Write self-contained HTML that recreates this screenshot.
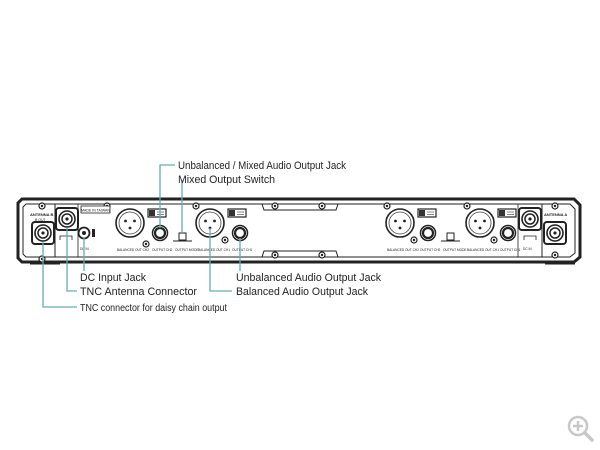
<!DOCTYPE html>
<html><head><meta charset="utf-8"><style>
html,body{margin:0;padding:0;background:#fff;width:600px;height:450px;overflow:hidden}
svg{display:block}
text{font-family:"Liberation Sans",sans-serif;fill:#222}
</style></head><body>
<svg width="600" height="450" viewBox="0 0 600 450" xmlns="http://www.w3.org/2000/svg">
<defs>
<g id="xlr"><circle r="14" fill="#fff" stroke="#222" stroke-width="1.6"/><circle r="11" fill="none" stroke="#444" stroke-width="0.8"/><circle cx="-4.5" cy="-2" r="1.4" fill="#222"/><circle cx="4.5" cy="-2" r="1.4" fill="#222"/><circle cx="0" cy="5" r="1.4" fill="#222"/></g>
<g id="jack"><circle r="7.5" fill="#fff" stroke="#222" stroke-width="1.5"/><circle r="5" fill="#fff" stroke="#222" stroke-width="2.2"/></g>
<g id="sw"><rect x="-9" y="-4" width="18" height="8" fill="#fff" stroke="#222" stroke-width="1.2"/><rect x="-8" y="-3" width="6" height="6" fill="#333"/><line x1="0" y1="-1" x2="7" y2="-1" stroke="#888" stroke-width="1"/><line x1="0" y1="1.5" x2="7" y2="1.5" stroke="#888" stroke-width="1"/></g>
<g id="scr"><circle r="3" fill="#fff" stroke="#222" stroke-width="1.2"/><circle r="1.2" fill="#222"/></g>
<g id="tnc"><rect x="-11" y="-11" width="22" height="22" rx="3" fill="#fff" stroke="#222" stroke-width="2"/><circle r="8" fill="none" stroke="#222" stroke-width="1.6"/><circle r="5" fill="none" stroke="#222" stroke-width="1.5"/><circle r="1.6" fill="#222"/></g>
<g id="om"><rect x="-3" y="-4" width="7" height="7" fill="#fff" stroke="#222" stroke-width="1"/><line x1="-9" y1="4" x2="10" y2="4" stroke="#222" stroke-width="1"/></g>
</defs>
<path d="M22 199 L574 199 L580 205 L580 257 L574 262 L22 262 L18 258 L18 203 Z" fill="#fff" stroke="#222" stroke-width="3"/>
<path d="M26 204 L570 204 L575 209 L575 253 L570 257 L26 257 L23 254 L23 207 Z" fill="none" stroke="#222" stroke-width="1"/>
<line x1="30" y1="263" x2="60" y2="263" stroke="#222" stroke-width="3"/>
<line x1="545" y1="263" x2="575" y2="263" stroke="#222" stroke-width="3"/>
<line x1="55" y1="204" x2="55" y2="257" stroke="#222" stroke-width="1"/>
<line x1="78" y1="204" x2="78" y2="257" stroke="#222" stroke-width="0.8"/>
<line x1="518" y1="204" x2="518" y2="257" stroke="#222" stroke-width="0.8"/>
<line x1="542" y1="204" x2="542" y2="257" stroke="#222" stroke-width="1"/>
<path d="M262 204 L264 210 L336 210 L338 204" fill="none" stroke="#222" stroke-width="1"/>
<path d="M262 257 L264 251 L336 251 L338 257" fill="none" stroke="#222" stroke-width="1"/>
<use href="#scr" x="42" y="206"/><use href="#scr" x="42" y="259"/>
<use href="#scr" x="275" y="206"/><use href="#scr" x="322" y="206"/>
<use href="#scr" x="275" y="255"/><use href="#scr" x="322" y="255"/>
<use href="#scr" x="555" y="206"/><use href="#scr" x="555" y="255"/>
<use href="#scr" x="107" y="206"/><use href="#scr" x="146" y="244"/>
<use href="#scr" x="387" y="206"/><use href="#scr" x="414" y="240"/>
<use href="#scr" x="467" y="206"/><use href="#scr" x="494" y="240"/>
<use href="#scr" x="196" y="206"/><use href="#scr" x="225" y="240"/>
<use href="#tnc" x="43" y="233"/>
<use href="#tnc" x="67" y="219"/>
<use href="#tnc" x="530" y="219"/>
<use href="#tnc" x="555" y="233"/>
<circle cx="84" cy="233" r="5.5" fill="#fff" stroke="#222" stroke-width="1.8"/><circle cx="84" cy="233" r="2" fill="#222"/>
<rect x="92" y="229" width="3" height="8" fill="#222"/>
<rect x="81" y="206" width="29" height="7" fill="#fff" stroke="#222" stroke-width="0.8"/>
<text x="95.5" y="211.5" font-size="3.5" text-anchor="middle">MADE IN TAIWAN</text>
<text x="30" y="216" font-size="4" font-weight="bold">ANTENNA B</text>
<text x="35" y="221" font-size="3.5">B OUT</text>
<text x="544" y="216" font-size="4" font-weight="bold">ANTENNA A</text>
<path d="M60 240 L60 236 L72 236 L72 240" fill="none" stroke="#222" stroke-width="0.8"/>
<path d="M524 240 L524 236 L536 236 L536 240" fill="none" stroke="#222" stroke-width="0.8"/>
<use href="#xlr" x="130" y="223"/><use href="#xlr" x="210" y="223"/>
<use href="#xlr" x="400" y="223"/><use href="#xlr" x="480" y="223"/>
<use href="#jack" x="160" y="233"/><use href="#jack" x="240" y="233"/>
<use href="#jack" x="428" y="233"/><use href="#jack" x="508" y="233"/>
<use href="#sw" x="157" y="213"/><use href="#sw" x="237" y="213"/>
<use href="#sw" x="427" y="213"/><use href="#sw" x="507" y="213"/>
<use href="#om" x="182" y="237"/><use href="#om" x="450" y="237"/>
<g font-size="3.2">
<text x="117" y="251">BALANCED OUT CH2</text><text x="198" y="251">BALANCED OUT CH1</text>
<text x="152" y="251">OUTPUT CH2</text><text x="232" y="251">OUTPUT CH1</text>
<text x="175" y="251">OUTPUT MODE</text><text x="443" y="251">OUTPUT MODE</text>
<text x="387" y="251">BALANCED OUT CH2</text><text x="467" y="251">BALANCED OUT CH1</text>
<text x="420" y="251">OUTPUT CH2</text><text x="500" y="251">OUTPUT CH1</text>
<text x="80" y="250">DC IN</text><text x="523" y="250">DC IN</text>
</g>
<g stroke="#5fb0ae" stroke-width="1.3" fill="none">
<path d="M84 238 L84 271"/>
<path d="M67 228 L67 291 L77 291"/>
<path d="M43 242 L43 307 L77 307"/>
<path d="M175 165 L160 165 L160 228"/>
<path d="M182 180 L182 232"/>
<path d="M240 238 L240 271"/>
<path d="M210 228 L210 291 L232 291"/>
</g>
<text x="80" y="281" font-size="11" textLength="66" lengthAdjust="spacingAndGlyphs">DC Input Jack</text>
<text x="80" y="295" font-size="11" textLength="117" lengthAdjust="spacingAndGlyphs">TNC Antenna Connector</text>
<text x="80" y="311" font-size="10" textLength="147" lengthAdjust="spacingAndGlyphs">TNC connector for daisy chain output</text>
<text x="178" y="169" font-size="11" textLength="168" lengthAdjust="spacingAndGlyphs">Unbalanced / Mixed Audio Output Jack</text>
<text x="178" y="183" font-size="11" textLength="97" lengthAdjust="spacingAndGlyphs">Mixed Output Switch</text>
<text x="236" y="281" font-size="11" textLength="145" lengthAdjust="spacingAndGlyphs">Unbalanced Audio Output Jack</text>
<text x="236" y="295" font-size="11" textLength="132" lengthAdjust="spacingAndGlyphs">Balanced Audio Output Jack</text>
<circle cx="578" cy="426" r="9" fill="none" stroke="#c8c8c8" stroke-width="2.5"/>
<path d="M578 421 V431 M573 426 H583" stroke="#c8c8c8" stroke-width="2.5"/>
<path d="M585 433 L592 440" stroke="#c8c8c8" stroke-width="3.5" stroke-linecap="round"/>
</svg>
</body></html>
